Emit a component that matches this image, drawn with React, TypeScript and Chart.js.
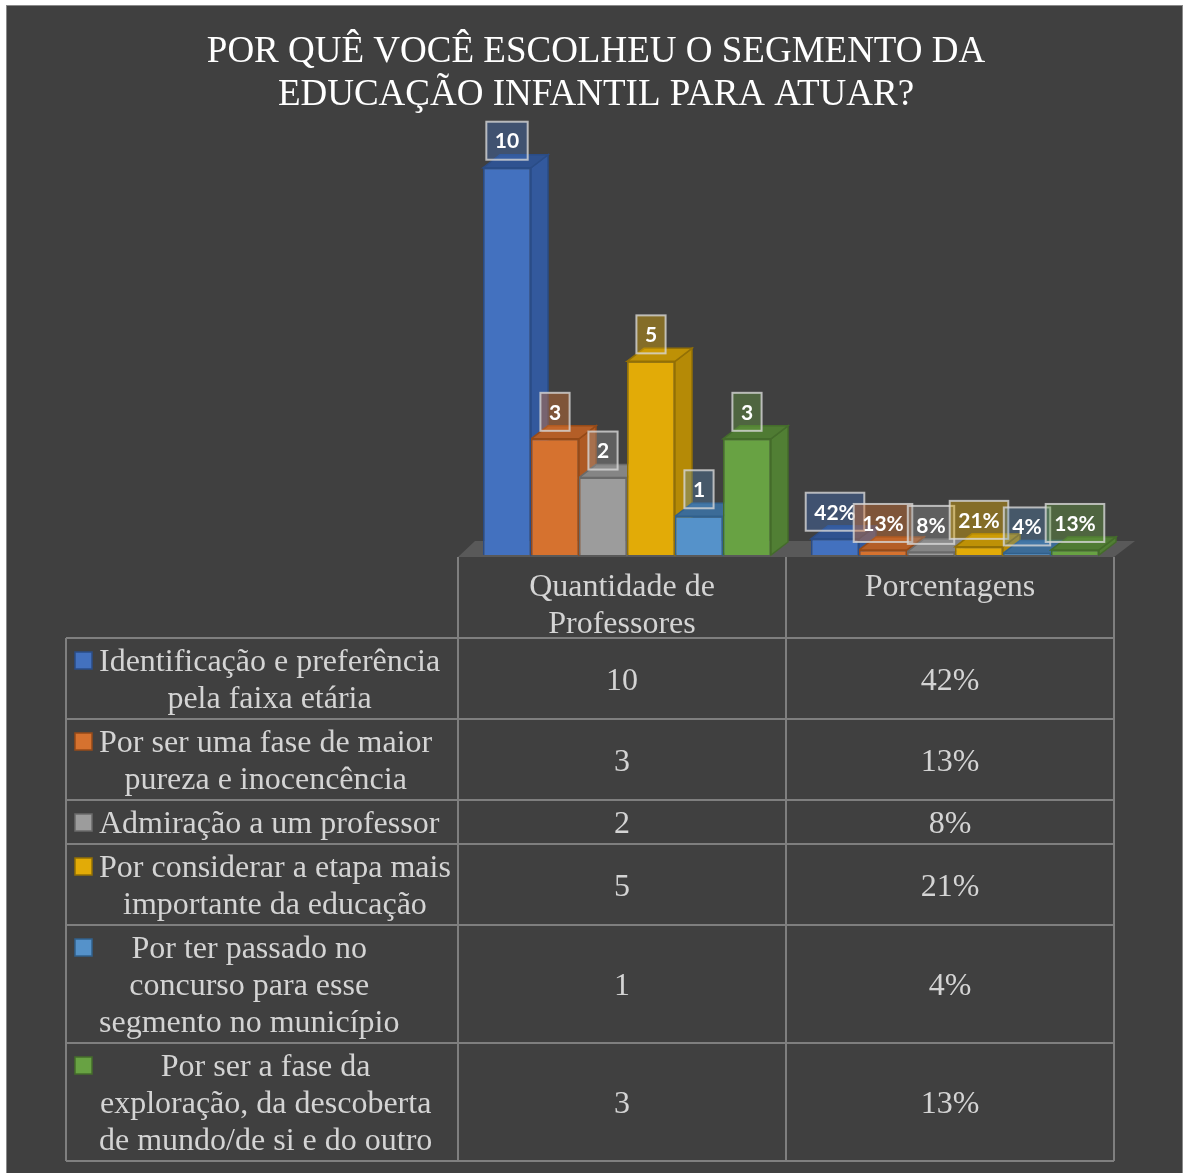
import React, { useEffect, useRef } from 'react';
import { Chart, registerables } from 'chart.js';

Chart.register(...registerables);

const W = 1183;
const H = 1173;

const TITLE_LINES = ['POR QUÊ VOCÊ ESCOLHEU O SEGMENTO DA', 'EDUCAÇÃO INFANTIL PARA ATUAR?'];
const CATEGORIES = ['Quantidade de Professores', 'Porcentagens'];
const CATEGORY_LINES = [['Quantidade de', 'Professores'], ['Porcentagens']];
const SERIES_NAMES = [
  'Identificação e preferência pela faixa etária',
  'Por ser uma fase de maior pureza e inocencência',
  'Admiração a um professor',
  'Por considerar a etapa mais importante da educação',
  'Por ter passado no concurso para esse segmento no município',
  'Por ser a fase da exploração, da descoberta de mundo/de si e do outro',
];
const SERIES_LINES = [
  ['Identificação e preferência', 'pela faixa etária'],
  ['Por ser uma fase de maior', 'pureza e inocencência'],
  ['Admiração a um professor'],
  ['Por considerar a etapa mais', 'importante da educação'],
  ['Por ter passado no', 'concurso para esse', 'segmento no município'],
  ['Por ser a fase da', 'exploração, da descoberta', 'de mundo/de si e do outro'],
];
const COUNTS = [10, 3, 2, 5, 1, 3];
const PERCENTS = [42, 13, 8, 21, 4, 13];

const FRONT = ['#4371BF', '#D6722F', '#9C9C9C', '#E2AB07', '#5592CA', '#68A243'];
const SIDE = ['#33599D', '#AE5A24', '#7E7E7E', '#B58A06', '#3F74A4', '#517F34'];
const TOP = ['#2F5290', '#B45E27', '#858585', '#BE9106', '#3C6C98', '#4F7B33'];
const EDGE = ['#2A4C86', '#954A18', '#6A6A6A', '#937005', '#31608C', '#446C2B'];
const LABEL_FILL = [
  'rgba(67,113,191,0.38)',
  'rgba(214,114,47,0.42)',
  'rgba(156,156,156,0.35)',
  'rgba(226,171,7,0.42)',
  'rgba(85,146,202,0.30)',
  'rgba(104,162,67,0.38)',
];

const SERIF = '"Liberation Serif", "Times New Roman", serif';
const DX = 17;
const DY = -13;
// the data table sits a little left of the plot (3D depth shifts the bars right)
const TABLE_SHIFT = -5;

function poly(ctx: CanvasRenderingContext2D, pts: number[][], fill: string, stroke: string) {
  ctx.beginPath();
  ctx.moveTo(pts[0][0], pts[0][1]);
  for (let i = 1; i < pts.length; i++) ctx.lineTo(pts[i][0], pts[i][1]);
  ctx.closePath();
  ctx.fillStyle = fill;
  ctx.fill();
  ctx.strokeStyle = stroke;
  ctx.lineWidth = 1.5;
  ctx.stroke();
}

const bgPlugin = {
  id: 'bg',
  beforeDraw(chart: any) {
    const ctx = chart.ctx;
    ctx.save();
    ctx.fillStyle = '#ffffff';
    ctx.fillRect(0, 0, W, H);
    ctx.fillStyle = '#404040';
    ctx.fillRect(7, 6, 1175, 1167);
    ctx.strokeStyle = '#8a8a8a';
    ctx.lineWidth = 1;
    ctx.strokeRect(6.5, 5.5, 1176, 1170);
    ctx.fillStyle = '#ffffff';
    ctx.font = `37px ${SERIF}`;
    ctx.textAlign = 'center';
    ctx.textBaseline = 'middle';
    TITLE_LINES.forEach((t, i) => ctx.fillText(t, 596, 52 + i * 43));
    ctx.restore();
  },
};

const threeDPlugin = {
  id: 'threeD',
  beforeDatasetsDraw(chart: any) {
    const ctx = chart.ctx;
    const area = chart.chartArea;
    const base = area.bottom;
    const left = area.left + TABLE_SHIFT;
    const right = area.right + TABLE_SHIFT;
    ctx.save();
    ctx.beginPath();
    ctx.moveTo(left, base + 2);
    ctx.lineTo(right, base + 2);
    ctx.lineTo(right + DX + 4, base + DY - 1);
    ctx.lineTo(left + DX, base + DY - 1);
    ctx.closePath();
    ctx.fillStyle = '#595959';
    ctx.fill();
    const nCat = chart.data.labels.length;
    for (let c = 0; c < nCat; c++) {
      chart.data.datasets.forEach((_: any, di: number) => {
        const el = chart.getDatasetMeta(di).data[c];
        if (!el) return;
        const x0 = el.x - el.width / 2;
        const x1 = el.x + el.width / 2;
        const top = el.y;
        const b = el.base;
        poly(ctx, [[x1, top], [x1 + DX, top + DY], [x1 + DX, b + DY], [x1, b]], SIDE[di], EDGE[di]);
        poly(ctx, [[x0, top], [x0 + DX, top + DY], [x1 + DX, top + DY], [x1, top]], TOP[di], EDGE[di]);
      });
    }
    ctx.restore();
  },
  afterDatasetsDraw(chart: any) {
    const ctx = chart.ctx;
    ctx.save();
    ctx.font = `bold 21px Lato, "Open Sans", sans-serif`;
    ctx.textAlign = 'center';
    ctx.textBaseline = 'middle';
    const nCat = chart.data.labels.length;
    for (let c = 0; c < nCat; c++) {
      chart.data.datasets.forEach((_: any, di: number) => {
        const el = chart.getDatasetMeta(di).data[c];
        if (!el) return;
        const text = c === 0 ? String(COUNTS[di]) : `${PERCENTS[di]}%`;
        const tw = ctx.measureText(text).width;
        const bw = tw + 17;
        const bh = 38;
        const bottom = el.y - 8;
        const x = el.x - bw / 2;
        ctx.fillStyle = LABEL_FILL[di];
        ctx.fillRect(x, bottom - bh, bw, bh);
        ctx.strokeStyle = 'rgba(215,215,215,0.8)';
        ctx.lineWidth = 2;
        ctx.strokeRect(x, bottom - bh, bw, bh);
        ctx.fillStyle = '#ffffff';
        ctx.fillText(text, el.x, bottom - bh / 2 + 1);
      });
    }
    ctx.restore();
  },
};

const tablePlugin = {
  id: 'dataTable',
  afterDraw(chart: any) {
    const ctx = chart.ctx;
    const area = chart.chartArea;
    const xs = chart.scales.x;
    const nCat = chart.data.labels.length;
    const catW = (area.right - area.left) / nCat;
    const tableLeft = 66;
    const tableRight = area.right + TABLE_SHIFT;
    const headTop = area.bottom + 2;
    const lineH = 37;
    const headH = 81;
    const rowHeights = SERIES_LINES.map((l) => 7 + lineH * l.length);
    const bounds: number[] = [headTop + headH];
    rowHeights.forEach((h) => bounds.push(bounds[bounds.length - 1] + h));
    const bottom = bounds[bounds.length - 1];
    const TY = 3;

    ctx.save();
    ctx.strokeStyle = '#7f7f7f';
    ctx.lineWidth = 2;
    ctx.beginPath();
    for (let c = 0; c <= nCat; c++) {
      const x = Math.round(area.left + c * catW + TABLE_SHIFT);
      ctx.moveTo(x, headTop);
      ctx.lineTo(x, bottom);
    }
    ctx.moveTo(tableLeft, bounds[0]);
    ctx.lineTo(tableLeft, bottom);
    bounds.forEach((y) => {
      ctx.moveTo(tableLeft, y);
      ctx.lineTo(tableRight, y);
    });
    ctx.stroke();

    ctx.font = `32px ${SERIF}`;
    ctx.fillStyle = '#d4d4d4';
    ctx.textBaseline = 'middle';
    ctx.textAlign = 'center';
    CATEGORY_LINES.forEach((lines, c) => {
      const cx = xs.getPixelForValue(c) + TABLE_SHIFT;
      lines.forEach((t, i) => ctx.fillText(t, cx, headTop + 28 + TY + i * lineH));
    });
    SERIES_LINES.forEach((lines, r) => {
      const yc = (bounds[r] + bounds[r + 1]) / 2;
      const n = lines.length;
      const maxW = Math.max(...lines.map((t) => ctx.measureText(t).width));
      const blockCx = 99 + maxW / 2;
      lines.forEach((t, i) => {
        const y = yc + (i - (n - 1) / 2) * lineH + TY;
        ctx.fillText(t, blockCx, y);
      });
      const firstY = yc - ((n - 1) / 2) * lineH + 1;
      ctx.fillStyle = FRONT[r];
      ctx.fillRect(75, firstY - 9, 17, 17);
      ctx.strokeStyle = EDGE[r];
      ctx.lineWidth = 1.5;
      ctx.strokeRect(75, firstY - 9, 17, 17);
      ctx.fillStyle = '#d4d4d4';
      ctx.fillText(String(COUNTS[r]), xs.getPixelForValue(0) + TABLE_SHIFT, yc + TY);
      ctx.fillText(`${PERCENTS[r]}%`, xs.getPixelForValue(1) + TABLE_SHIFT, yc + TY);
    });
    ctx.restore();
  },
};

export default function App() {
  const ref = useRef<HTMLCanvasElement | null>(null);
  useEffect(() => {
    if (!ref.current) return;
    const chart = new Chart(ref.current, {
      type: 'bar',
      data: {
        labels: CATEGORIES,
        datasets: SERIES_NAMES.map((name, i) => ({
          label: name,
          data: [COUNTS[i], PERCENTS[i] / 100],
          backgroundColor: FRONT[i],
          borderColor: EDGE[i],
          borderWidth: 1.5,
          categoryPercentage: 0.878,
          barPercentage: 1,
        })),
      },
      options: {
        responsive: false,
        devicePixelRatio: 1,
        animation: false,
        layout: { padding: { left: 463, right: 64, top: 129, bottom: 618 } },
        scales: {
          x: { display: false, offset: true },
          y: { display: false, min: 0, max: 11 },
        },
        plugins: {
          legend: { display: false },
          title: { display: false },
          tooltip: { enabled: false },
        },
      },
      plugins: [bgPlugin, threeDPlugin, tablePlugin],
    });
    return () => chart.destroy();
  }, []);
  return (
    <div style={{ position: 'absolute', left: 0, top: 0, width: W, height: H }}>
      <canvas ref={ref} width={W} height={H} style={{ display: 'block' }} />
    </div>
  );
}
